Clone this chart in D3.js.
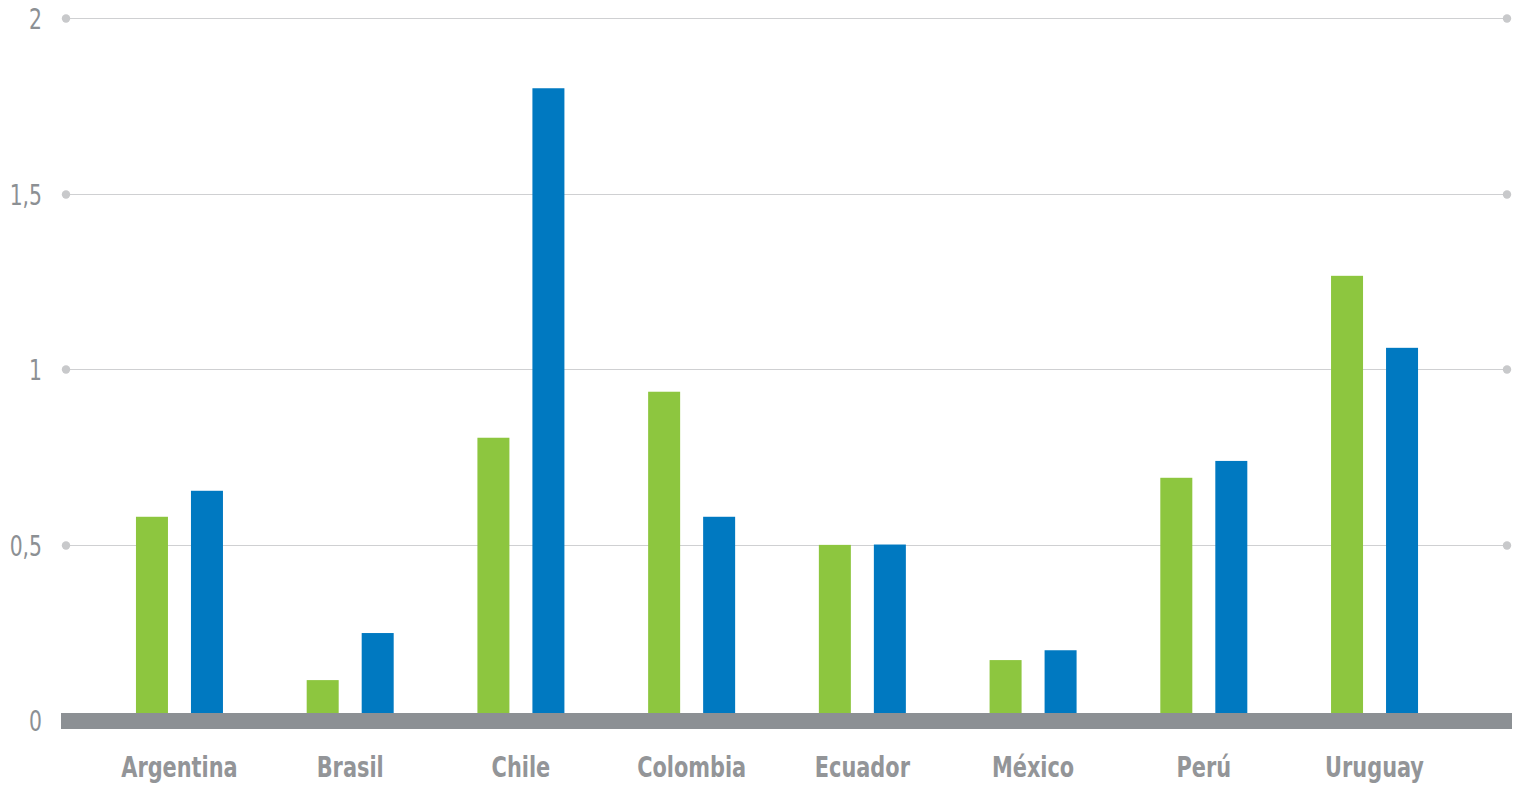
<!DOCTYPE html>
<html><head><meta charset="utf-8">
<script src="https://cdn.jsdelivr.net/npm/d3@7"></script>
<style>
html,body{margin:0;padding:0;background:#fff;}
svg{display:block;}
</style></head>
<body>
<svg id="chart" width="1519" height="786"></svg>
<script>
const categories = ["Argentina","Brasil","Chile","Colombia","Ecuador","México","Perú","Uruguay"];
const seriesGreen = [0.58,0.115,0.805,0.936,0.50,0.172,0.691,1.266];
const seriesBlue  = [0.654,0.249,1.80,0.58,0.501,0.20,0.739,1.061];
const yTicks = [0,0.5,1,1.5,2];
const yTickLabels = ["0","0,5","1","1,5","2"];

const svg = d3.select("#chart");
const font = "'Liberation Sans Narrow','DejaVu Sans Condensed','Roboto',sans-serif";
const y = d3.scaleLinear().domain([0,2]).range([720.5,18]);
const x = d3.scaleBand().domain(categories).range([94.1,1459.9]);
const gridX0 = 66, gridX1 = 1507;

// grid lines
const grid = svg.append("g");
yTicks.filter(t=>t>0).forEach(t=>{
  const yy = Math.round(y(t))+0.5;
  grid.append("line").attr("x1",gridX0).attr("x2",gridX1).attr("y1",yy).attr("y2",yy)
    .attr("stroke","#cfd0d2").attr("stroke-width",1.2);
  grid.append("circle").attr("cx",gridX0).attr("cy",yy).attr("r",4.2).attr("fill","#c8c9cb");
  grid.append("circle").attr("cx",gridX1).attr("cy",yy).attr("r",4.2).attr("fill","#c8c9cb");
});

// y labels
const yAxis = d3.axisLeft(y).tickValues(yTicks).tickSize(0).tickPadding(0)
  .tickFormat((d,i)=>yTickLabels[i]);
const ga = svg.append("g").attr("transform","translate(42,0)").call(yAxis);
ga.select(".domain").remove();
ga.selectAll("text").attr("font-family",font).attr("font-size",29).attr("fill","#8c9094")
  .attr("dy","0.36em").attr("transform","scale(0.78,1)");

// bars
const barW = 32, gap = 23;
const bars = svg.append("g");
categories.forEach((c,i)=>{
  const cx = x(c)+x.bandwidth()/2;
  bars.append("rect").attr("x",cx-gap/2-barW).attr("width",barW)
    .attr("y",y(seriesGreen[i])).attr("height",y(0)-y(seriesGreen[i])).attr("fill","#8dc63f");
  bars.append("rect").attr("x",cx+gap/2).attr("width",barW)
    .attr("y",y(seriesBlue[i])).attr("height",y(0)-y(seriesBlue[i])).attr("fill","#0079c1");
});

// baseline
svg.append("rect").attr("x",61).attr("width",1451).attr("y",713).attr("height",16).attr("fill","#8c9094");

// x labels
const xAxis = d3.axisBottom(x).tickSize(0).tickPadding(0);
const gx = svg.append("g").attr("transform","translate(0,777)").call(xAxis);
gx.select(".domain").remove();
gx.selectAll("text").attr("font-family",font).attr("font-size",29).attr("font-weight","bold")
  .attr("fill","#939598").attr("dy",0).attr("y",0).attr("transform","scale(0.8,1)");
</script>
</body></html>
